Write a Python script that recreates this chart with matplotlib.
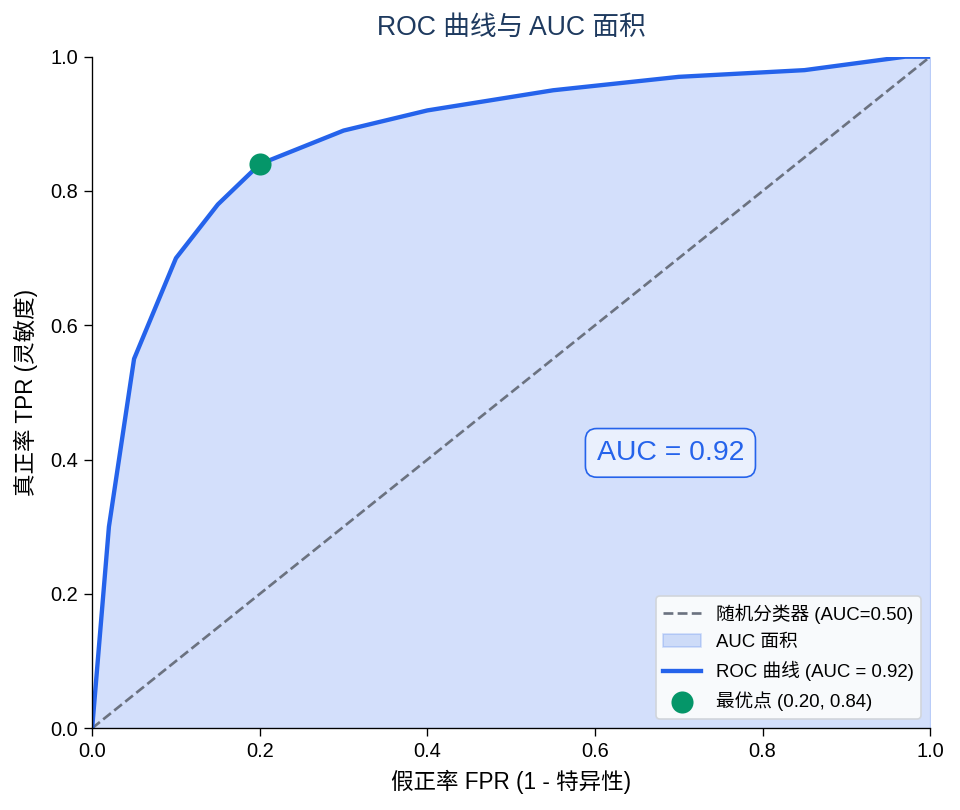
import matplotlib
matplotlib.use("Agg")
from matplotlib import pyplot as plt
import numpy as np

plt.rcParams['font.family'] = ['Liberation Sans', 'Noto Sans CJK SC', 'DejaVu Sans']
plt.rcParams['axes.unicode_minus'] = False

# ROC data
fpr = [0.0, 0.02, 0.05, 0.10, 0.15, 0.20, 0.30, 0.40, 0.55, 0.70, 0.85, 0.97, 1.0]
tpr = [0.0, 0.30, 0.55, 0.70, 0.78, 0.84, 0.89, 0.92, 0.95, 0.97, 0.98, 1.0, 1.0]
auc_value = 0.92
best_fpr, best_tpr = 0.20, 0.84

blue = '#2563eb'

fig = plt.figure(figsize=(8, 6.75), dpi=120)
ax = fig.add_subplot(111)
fig.subplots_adjust(left=0.096, right=0.969, bottom=0.101, top=0.93)

ax.plot([0, 1], [0, 1], linestyle='--', color='#6b7280', linewidth=1.6,
        label='随机分类器 (AUC=0.50)')
ax.fill_between(fpr, tpr, 0, color=blue, alpha=0.2, label='AUC 面积')
ax.plot(fpr, tpr, color=blue, linewidth=2.6, label='ROC 曲线 (AUC = %.2f)' % auc_value)
ax.scatter([best_fpr], [best_tpr], s=150, color='#059669', zorder=5,
           label='最优点 (%.2f, %.2f)' % (best_fpr, best_tpr))

ax.text(0.69, 0.41, 'AUC = %.2f' % auc_value, fontsize=17, color=blue,
        ha='center', va='center',
        bbox=dict(boxstyle='round,pad=0.4', facecolor='#eaf0fd', edgecolor=blue, linewidth=1.0))

ax.set_xlim(0, 1)
ax.set_ylim(0, 1)
ax.set_xticks([0, 0.2, 0.4, 0.6, 0.8, 1.0])
ax.set_xticklabels(['0.0', '0.2', '0.4', '0.6', '0.8', '1.0'])
ax.set_yticks([0, 0.2, 0.4, 0.6, 0.8, 1.0])
ax.set_yticklabels(['0.0', '0.2', '0.4', '0.6', '0.8', '1.0'])
ax.tick_params(labelsize=12, length=5)
ax.set_xlabel('假正率 FPR (1 - 特异性)', fontsize=13.5, labelpad=5)
ax.set_ylabel('真正率 TPR (灵敏度)', fontsize=13.5, labelpad=7)
ax.set_title('ROC 曲线与 AUC 面积', fontsize=16, color='#1e3a5f', pad=13)

ax.spines['top'].set_visible(False)
ax.spines['right'].set_visible(False)

ax.legend(loc='lower right', fontsize=11.2, facecolor='#f8fafc', framealpha=1,
          edgecolor='#d1d5db', labelspacing=0.55)

plt.savefig('out.png', dpi=120)
